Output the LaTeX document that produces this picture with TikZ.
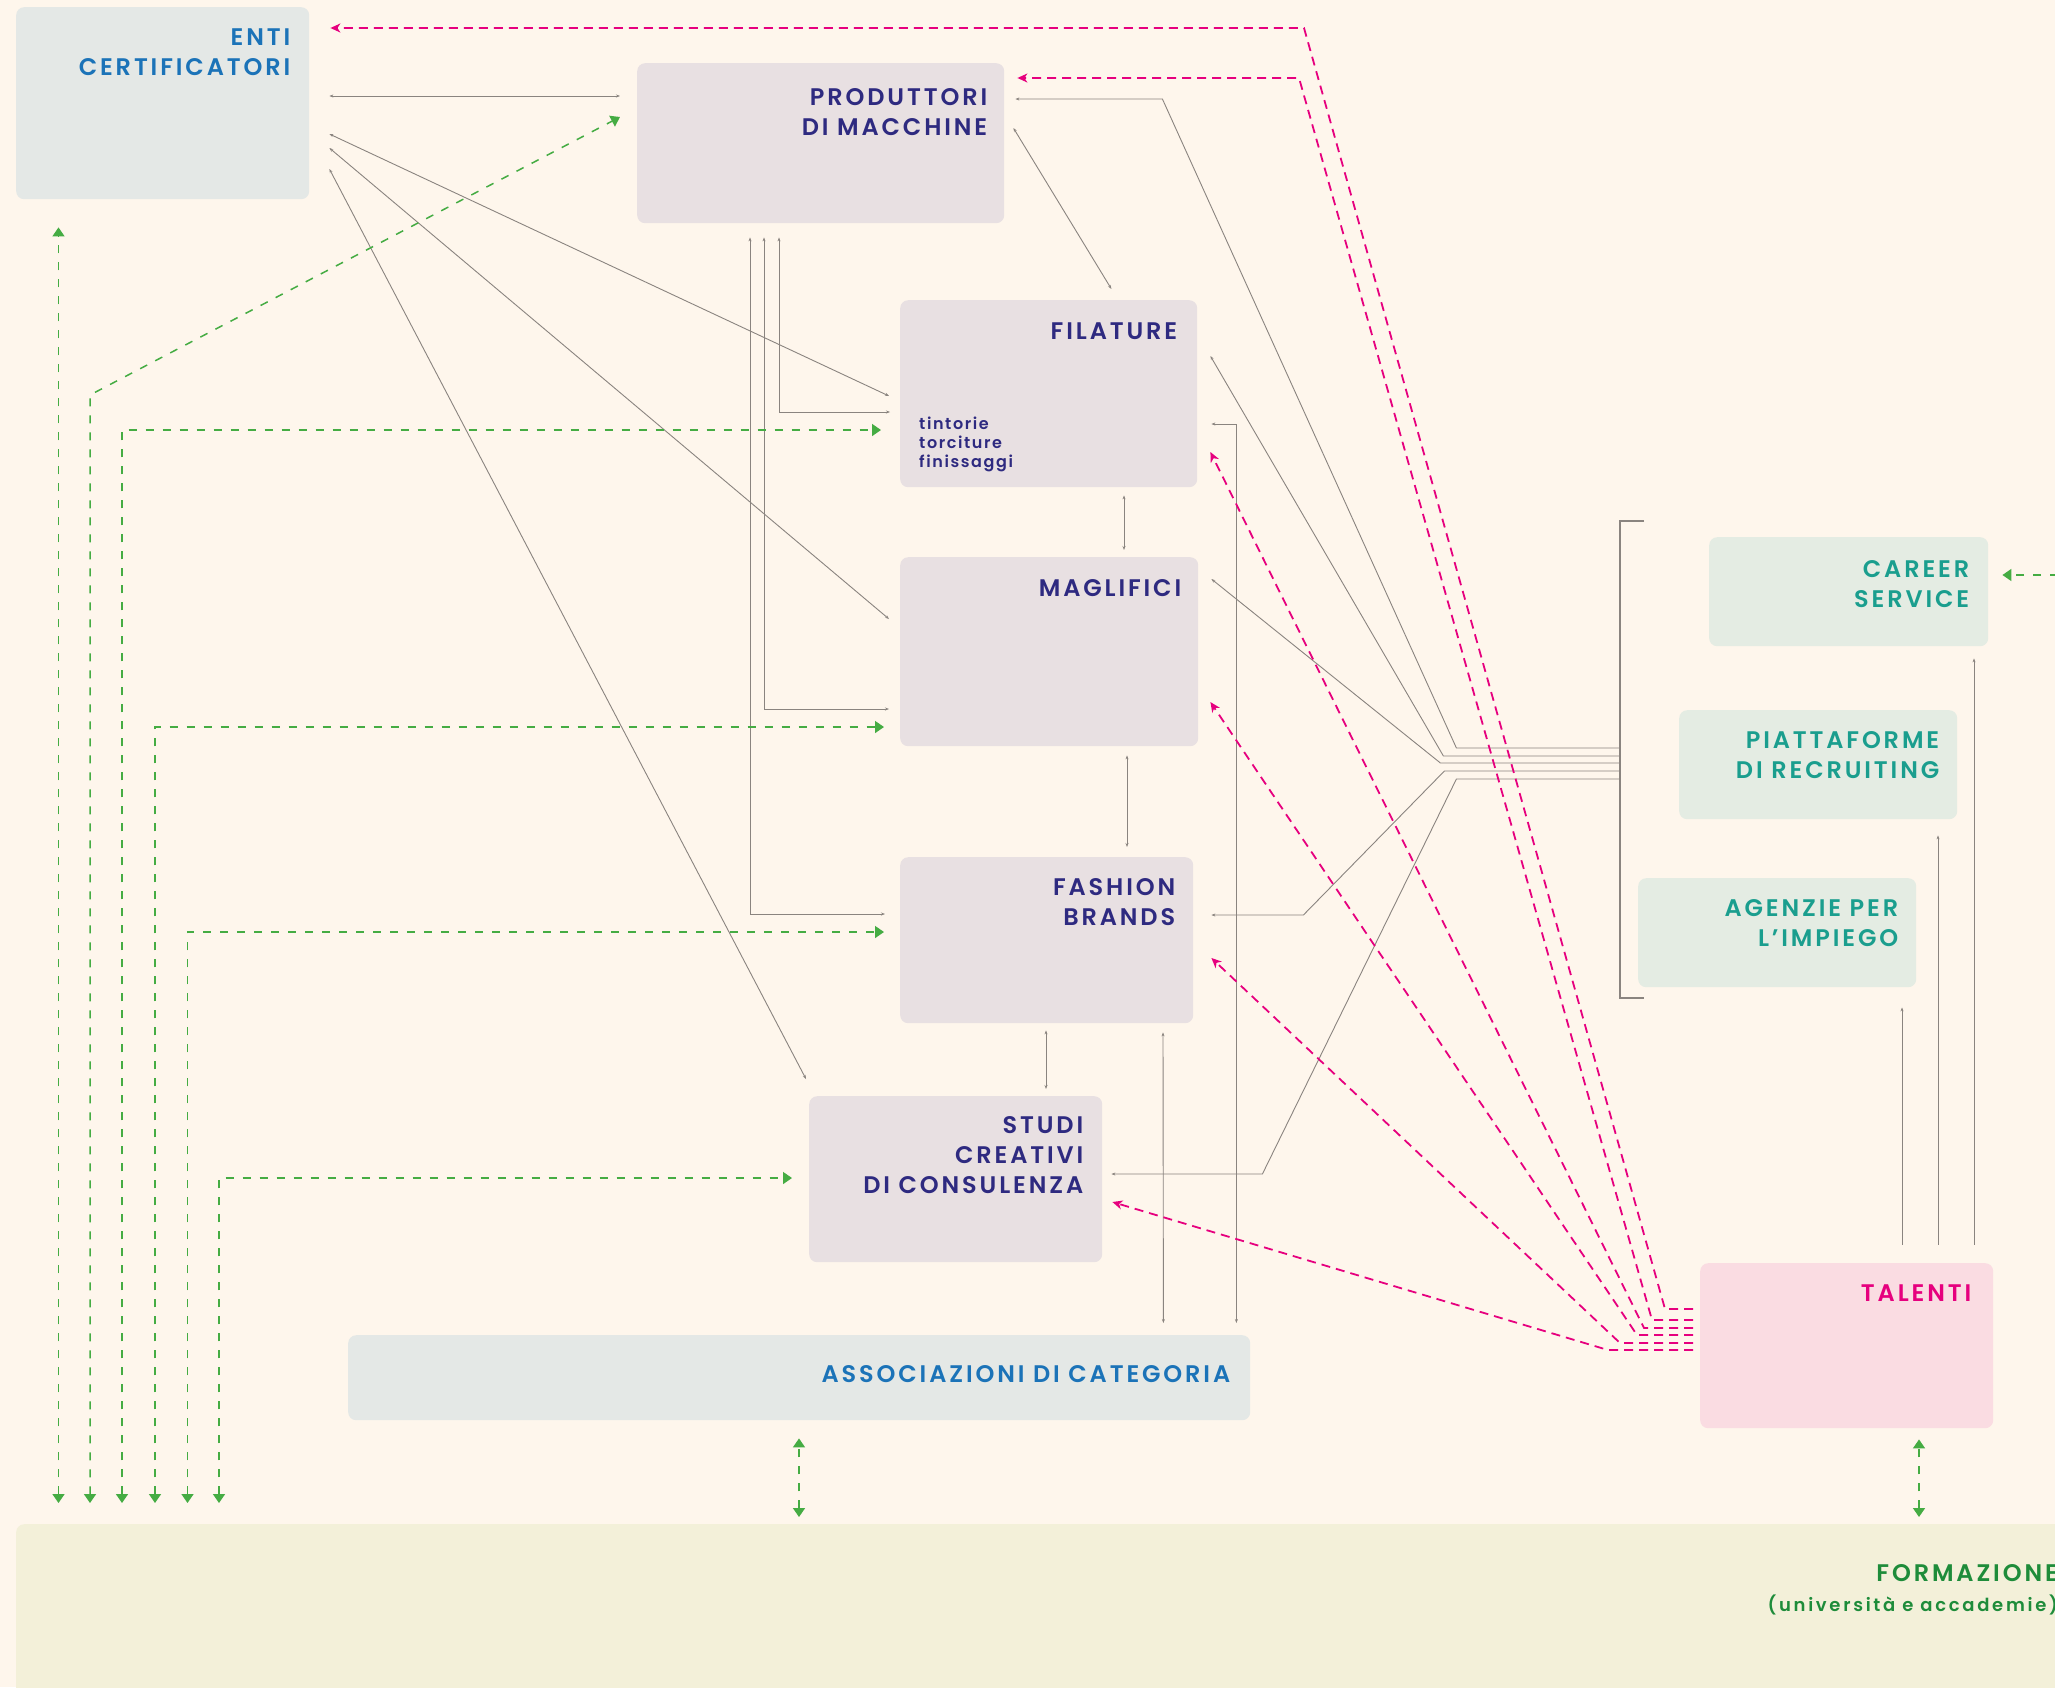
\documentclass[tikz,border=0pt]{standalone}
\usepackage{fontspec}
\setmainfont{Poppins}[UprightFont=* SemiBold]
\newfontfamily\labelfont{Poppins}[UprightFont=* SemiBold, LetterSpace=12]
\newfontfamily\notefont{Poppins}[UprightFont=* SemiBold, LetterSpace=10]
\newfontfamily\schoolfont{Poppins}[UprightFont=* SemiBold, LetterSpace=15]
\usetikzlibrary{arrows.meta}

\definecolor{paper}{HTML}{FEF6EC}
\definecolor{certfill}{HTML}{E4E8E6}
\definecolor{millfill}{HTML}{E8E0E2}
\definecolor{jobfill}{HTML}{E4ECE3}
\definecolor{talfill}{HTML}{FADCE2}
\definecolor{schoolfill}{HTML}{F3F0D9}
\definecolor{certblue}{HTML}{1B73B8}
\definecolor{millink}{HTML}{2E2A80}
\definecolor{jobteal}{HTML}{1A9E8E}
\definecolor{hotpink}{HTML}{E6007E}
\definecolor{leaf}{HTML}{1E8C3A}
\definecolor{edugreen}{HTML}{45AC43}
\definecolor{linkgray}{HTML}{8A847F}

\tikzset{
  graytip/.tip={Stealth[length=4pt,width=3pt]},
  pinktip/.tip={Stealth[length=10pt,width=9pt,inset=3pt]},
  greentip/.tip={Triangle[length=9pt,width=12pt]}
}

\begin{document}
\begin{tikzpicture}[x=1pt, y=-1pt,
  every node/.style={inner sep=0pt},
  box/.style={shape=rectangle, rounded corners=8pt, anchor=north west},
  head/.style={anchor=north east, align=right, font=\labelfont\fontsize{24}{30}\selectfont},
  link/.style={draw=linkgray, line width=0.9pt, graytip-graytip},
  feed/.style={draw=linkgray, line width=0.9pt, graytip-},
  talent/.style={draw=hotpink, line width=1.8pt, dash pattern=on 9pt off 6pt, -pinktip},
  edu/.style={draw=edugreen, line width=1.5pt, dash pattern=on 8pt off 9pt, greentip-greentip}
]
\useasboundingbox (0,0) rectangle (2055,1687);
\clip (0,0) rectangle (2055,1687);
\fill[paper] (0,0) rectangle (2055,1687);

% boxes
\node[box, fill=certfill, minimum width=293, minimum height=192] (enti) at (16,7) {};
\node[box, fill=millfill, minimum width=367, minimum height=160] (prod) at (637,63) {};
\node[box, fill=millfill, minimum width=297, minimum height=187] (fil) at (900,300) {};
\node[box, fill=millfill, minimum width=298, minimum height=189] (mag) at (900,557) {};
\node[box, fill=millfill, minimum width=293, minimum height=166] (fash) at (900,857) {};
\node[box, fill=millfill, minimum width=293, minimum height=166] (studi) at (809,1096) {};
\node[box, fill=certfill, minimum width=902, minimum height=85] (assoc) at (348,1335) {};
\node[box, fill=jobfill, minimum width=279, minimum height=109] (career) at (1709,537) {};
\node[box, fill=jobfill, minimum width=278, minimum height=109] (piatt) at (1679,710) {};
\node[box, fill=jobfill, minimum width=278, minimum height=109] (agenz) at (1638,878) {};
\node[box, fill=talfill, minimum width=293, minimum height=165] (talenti) at (1700,1263) {};
\node[box, fill=schoolfill, minimum width=2100, minimum height=250] (form) at (16,1524) {};

% labels
\node[head, text=certblue] (entiT) at ([shift={(-19,22)}]enti.north east) {ENTI\\CERTIFICATORI};
\node[head, text=millink] (prodT) at ([shift={(-17,25)}]prod.north east) {PRODUTTORI\\DI MACCHINE};
\node[head, text=millink] (filT) at ([shift={(-20,23)}]fil.north east) {FILATURE};
\node[anchor=north west, align=left, text=millink, font=\notefont\fontsize{16}{19}\selectfont]
  (filN) at ([shift={(19,117)}]fil.north west) {tintorie\\torciture\\finissaggi};
\node[head, text=millink] (magT) at ([shift={(-17,22)}]mag.north east) {MAGLIFICI};
\node[head, text=millink] (fashT) at ([shift={(-18,21)}]fash.north east) {FASHION\\BRANDS};
\node[head, text=millink] (studiT) at ([shift={(-19,20)}]studi.north east) {STUDI\\CREATIVI\\DI CONSULENZA};
\node[head, text=certblue] (assocT) at ([shift={(-20,30)}]assoc.north east) {ASSOCIAZIONI DI CATEGORIA};
\node[head, text=jobteal] (careerT) at ([shift={(-19,23)}]career.north east) {CAREER\\SERVICE};
\node[head, text=jobteal] (piattT) at ([shift={(-18,21)}]piatt.north east) {PIATTAFORME\\DI RECRUITING};
\node[head, text=jobteal] (agenzT) at ([shift={(-18,21)}]agenz.north east) {AGENZIE PER\\L’IMPIEGO};
\node[head, text=hotpink] (talentiT) at ([shift={(-22,22)}]talenti.north east) {TALENTI};
\node[head, text=leaf] (formT) at ([shift={(2042,40)}]form.north west)
  {FORMAZIONE\\{\schoolfont\fontsize{18}{30}\selectfont(università e accademie)}};

% grey links
\draw[link] ([shift={(20,89)}]enti.north east) -- ([shift={(-17,33)}]prod.north west);
\draw[link] ([shift={(20,127)}]enti.north east) -- ([shift={(-11,96)}]fil.north west);
\draw[link] ([shift={(20,141)}]enti.north east) -- ([shift={(-11,62)}]mag.north west);
\draw[link] ([shift={(20,162)}]enti.north east) -- ([shift={(-3,-17)}]studi.north west);
\draw[link] ([shift={(9,65)}]prod.north east) -- ([shift={(-86,-11)}]fil.north east);
\draw[link] ([shift={(142,14)}]prod.south west) |- ([shift={(-10,112)}]fil.north west);
\draw[link] ([shift={(127,14)}]prod.south west) |- ([shift={(-11,152)}]mag.north west);
\draw[link] ([shift={(113,14)}]prod.south west) |- ([shift={(-15,57)}]fash.north west);
\draw[link] ([shift={(224,8)}]fil.south west) -- ([shift={(224,-7)}]mag.north west);
\draw[link] ([shift={(227,9)}]mag.south west) -- ([shift={(227,-10)}]fash.north west);
\draw[link] ([shift={(146,7)}]fash.south west) -- ([shift={(237,-7)}]studi.north west);
\draw[link] ([shift={(263,9)}]fash.south west) -- ([shift={(-87,-12)}]assoc.north east);
\draw[link] ([shift={(14,124)}]fil.north east) -| ([shift={(-14,-12)}]assoc.north east);

% bracket of the job market
\draw[linkgray, line width=1.3pt] (1644,521) -- (1620,521) -- (1620,998) -- (1644,998);
\foreach \i/\y in {1/748,2/756,3/763,4/771,5/779}
  \coordinate (b\i) at (1620,\y);
\draw[feed] ([shift={(11,36)}]prod.north east) -- ++(147,0) -- ++(294,649) -- (b1);
\draw[feed] ([shift={(13,56)}]fil.north east) -- ++(233,400) -- (b2);
\draw[feed] ([shift={(13,22)}]mag.north east) -- ++(229,184) -- (b3);
\draw[feed] ([shift={(18,58)}]fash.north east) -- ++(92,0) -- ++(141,-144) -- (b4);
\draw[feed] ([shift={(9,78)}]studi.north east) -- ++(151,0) -- ++(194,-395) -- (b5);
\draw[feed] ([shift={(264,20)}]agenz.south west) -- ([shift={(202,-18)}]talenti.north west);
\draw[feed] ([shift={(259,16)}]piatt.south west) -- ([shift={(238,-18)}]talenti.north west);
\draw[feed] ([shift={(265,12)}]career.south west) -- ([shift={(274,-18)}]talenti.north west);

% talents
\draw[talent] ([shift={(-7,46)}]talenti.north west) -- ++(-28,0) -- ++(-361,-1281) -- ([shift={(21,21)}]enti.north east);
\draw[talent] ([shift={(-7,57)}]talenti.north west) -- ++(-41,0) -- ++(-353,-1242) -- ([shift={(13,15)}]prod.north east);
\draw[talent] ([shift={(-7,65)}]talenti.north west) -- ++(-49,0) -- ([shift={(13,152)}]fil.north east);
\draw[talent] ([shift={(-7,72)}]talenti.north west) -- ++(-56,0) -- ([shift={(12,145)}]mag.north east);
\draw[talent] ([shift={(-7,80)}]talenti.north west) -- ++(-73,0) -- ([shift={(18,101)}]fash.north east);
\draw[talent] ([shift={(-7,87)}]talenti.north west) -- ++(-85,0) -- ([shift={(10,106)}]studi.north east);

% education
\draw[edu] ([shift={(42.5,-21)}]form.north west) -- ([shift={(42.5,28)}]enti.south west);
\draw[edu] ([shift={(74,-21)}]form.north west) -- ++(0,-1108) -- ([shift={(-17,54)}]prod.north west);
\draw[edu] ([shift={(106,-21)}]form.north west) |- ([shift={(-19,130)}]fil.north west);
\draw[edu] ([shift={(139,-21)}]form.north west) |- ([shift={(-16,170)}]mag.north west);
\draw[edu] ([shift={(171.5,-21)}]form.north west) |- ([shift={(-16,75)}]fash.north west);
\draw[edu] ([shift={(203,-21)}]form.north west) |- ([shift={(-17,82)}]studi.north west);
\draw[edu] ([shift={(783,-7)}]form.north west) -- ([shift={(451,18)}]assoc.south west);
\draw[edu] ([shift={(1903,-7)}]form.north west) -- ([shift={(219,11)}]talenti.south west);
\coordinate (rim) at (2075,575);
\draw[edu, -greentip] (rim) -- ([shift={(14,38)}]career.north east);
\end{tikzpicture}
\end{document}
